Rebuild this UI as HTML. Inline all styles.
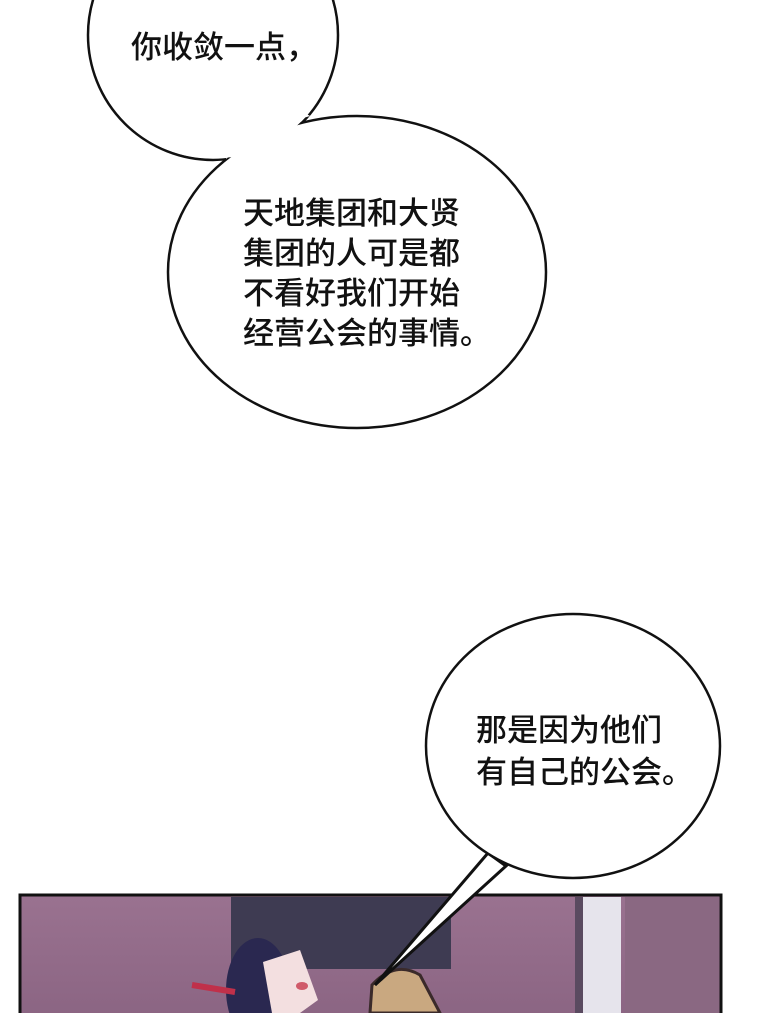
<!DOCTYPE html>
<html><head><meta charset="utf-8"><style>
html,body{margin:0;padding:0;background:#fff;}
svg{display:block}
text{font-family:"Liberation Sans","Noto Sans CJK SC",sans-serif;font-size:31px;font-weight:500;fill:#111;}
</style></head><body>
<svg width="760" height="1013" viewBox="0 0 760 1013">
<defs>
<linearGradient id="bg" x1="0" y1="0" x2="0" y2="1">
<stop offset="0" stop-color="#9a7290"/><stop offset="1" stop-color="#8a6482"/>
</linearGradient>
</defs>
<rect x="20" y="895" width="701" height="130" fill="url(#bg)" stroke="#111" stroke-width="3"/>
<rect x="231" y="897" width="220" height="72" fill="#3e3b52"/>
<rect x="575" y="897" width="8" height="120" fill="#5a4a60"/>
<rect x="583" y="897" width="38" height="120" fill="#e6e4ec"/>
<rect x="625" y="897" width="94" height="120" fill="#8a6882"/>
<path d="M370 1013 L372 985 Q395 960 420 975 L440 1013 Z" fill="#c9a880" stroke="#3a2a2a" stroke-width="3"/>
<ellipse cx="258" cy="990" rx="32" ry="52" fill="#2a2850"/>
<path d="M263 962 L300 950 L318 1000 L300 1013 L272 1013 Z" fill="#f3dfe0"/>
<ellipse cx="302" cy="986" rx="6" ry="4" fill="#d05a6a"/>
<path d="M192 985 L235 992" stroke="#c0304a" stroke-width="6"/>
<polygon points="488,853 375,985 506,866" fill="#fff" stroke="#111" stroke-width="3" stroke-linejoin="miter"/>
<ellipse cx="573" cy="746" rx="147" ry="132" fill="#fff" stroke="#111" stroke-width="2.5"/>
<polygon points="486,850 508,862 500,840" fill="#fff"/>
<ellipse cx="213" cy="35" rx="125" ry="125" fill="#fff" stroke="#111" stroke-width="2.5"/>
<ellipse cx="357" cy="272" rx="189" ry="156" fill="#fff" stroke="#111" stroke-width="2.5"/>
<ellipse cx="213" cy="35" rx="123.5" ry="123.5" fill="#fff"/>
<path d="M226 159 Q260 130 310 116 L300 110 L230 140 Z" fill="#fff"/>
<text x="131" y="58">你收敛一点，</text>
<text x="243" y="224">天地集团和大贤</text>
<text x="243" y="264">集团的人可是都</text>
<text x="243" y="304">不看好我们开始</text>
<text x="243" y="344">经营公会的事情。</text>
<text x="476" y="741">那是因为他们</text>
<text x="476" y="783">有自己的公会。</text>
</svg>
</body></html>
